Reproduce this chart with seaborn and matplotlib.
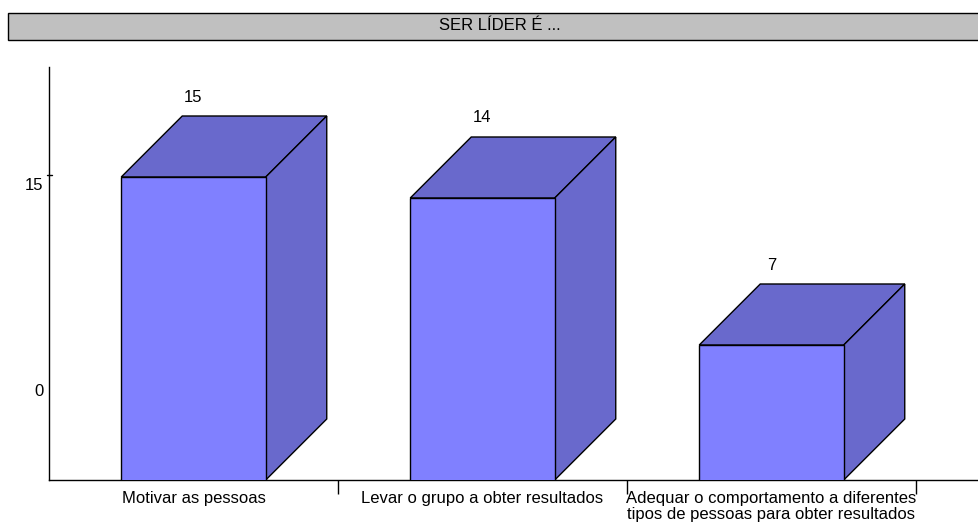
import matplotlib
matplotlib.use("Agg")
import matplotlib.pyplot as plt
from matplotlib.patches import Polygon, Rectangle
import seaborn as sns

# data
categories = ["Motivar as pessoas",
              "Levar o grupo a obter resultados",
              "Adequar o comportamento a diferentes\ntipos de pessoas para obter resultados"]
values = [15, 14, 7]
y_ticks = [0, 15]
title = "SER LÍDER É ..."

front_color = "#8080FF"
shade_color = "#6969CC"

sns.set_style("white")
plt.rcParams["font.family"] = ["Liberation Sans", "DejaVu Sans"]
plt.rcParams["text.color"] = "black"
plt.rcParams["xtick.color"] = "black"
plt.rcParams["ytick.color"] = "black"

W, H = 979, 522
fig = plt.figure(figsize=(W / 100, H / 100), dpi=100)

# axes box in pixels: x 49..979, y 67..480
ax = fig.add_axes([49 / W, (H - 480) / H, (W - 49) / W, (480 - 67) / H])

# vertical scale: 21 px per unit, value 15 sits at y=177 px
px_per_unit = 21
slot = 289  # category slot width in px
ylim = (15 - (480 - 177) / px_per_unit, 15 + (177 - 67) / px_per_unit)
xlim = (-0.5, -0.5 + (W - 49) / slot)

sns.barplot(x=categories, y=values, color=front_color, saturation=1,
            width=0.5, edgecolor="black", linewidth=1, ax=ax, zorder=3)
ax.set_xlim(*xlim)
ax.set_ylim(*ylim)

# 3d depth: 61 px right and up
dx = 61 / slot
dy = 61 / px_per_unit
ybot = ylim[0]
for i, v in enumerate(values):
    x0, x1 = i - 0.25, i + 0.25
    top = Polygon([(x0, v), (x1, v), (x1 + dx, v + dy), (x0 + dx, v + dy)],
                  closed=True, facecolor=shade_color, edgecolor="black",
                  linewidth=1, zorder=2)
    side = Polygon([(x1, v), (x1 + dx, v + dy), (x1 + dx, ybot + dy), (x1, ybot)],
                   closed=True, facecolor=shade_color, edgecolor="black",
                   linewidth=1, zorder=2)
    ax.add_patch(top)
    ax.add_patch(side)
    ax.annotate(str(v), xy=(i, v + dy), xytext=(0, 19), textcoords="offset pixels",
                ha="center", va="center", fontsize=12)

# category axis
ax.set_xticks(range(len(categories)))
ax.set_xticklabels(categories, fontsize=12, linespacing=1.1)
ax.tick_params(axis="x", which="major", length=0, pad=8)
ax.set_xticks([0.5, 1.5, 2.5], minor=True)
ax.tick_params(axis="x", which="minor", bottom=True, length=10, width=1,
               color="black", direction="out")
ax.set_xlabel("")

# value axis on its own scale (0 label at 390 px, 15 label at 184 px)
ax.set_yticks([])
tick_px = 13.73
sec = ax.secondary_yaxis(
    "left",
    functions=(lambda v: 15 - (177 - 184.5 + (15 - v) * px_per_unit) / tick_px,
               lambda t: 15 - ((15 - t) * tick_px + 184.5 - 177) / px_per_unit))
sec.set_yticks(y_ticks)
sec.tick_params(left=True, length=0, pad=4, labelsize=12)
sec.spines["left"].set_visible(False)
# small tick mark beside the 15
ax.plot([-0.5 - 2 / slot, -0.5 + 3 / slot], [15 + 2 / px_per_unit] * 2,
        color="black", linewidth=1, clip_on=False)

for s in ["top", "right"]:
    ax.spines[s].set_visible(False)
ax.spines["left"].set_color("black")
ax.spines["bottom"].set_color("black")
ax.spines["left"].set_linewidth(1)
ax.spines["bottom"].set_linewidth(1)

# title box
fig.patches.append(Rectangle((8 / W, (H - 40) / H), 1100 / W, 27 / H,
                             transform=fig.transFigure, facecolor="#C0C0C0",
                             edgecolor="black", linewidth=1))
fig.text(500 / W, 1 - 25 / H, title, ha="center", va="center", fontsize=12)

fig.savefig("out.png", dpi=100)
